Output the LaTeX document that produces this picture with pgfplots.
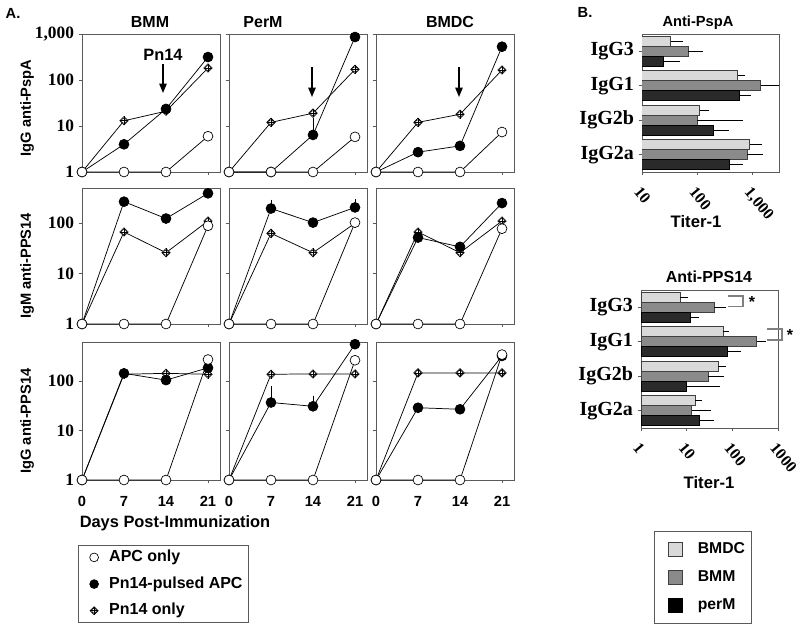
\documentclass[border=0pt]{standalone}
\usepackage{pgfplots}
\pgfplotsset{compat=1.18}
\usepackage{fontspec}
\setmainfont{Liberation Sans}
\newfontfamily\tms{Liberation Serif}
\usetikzlibrary{arrows.meta,patterns}

\pgfdeclareplotmark{dplus}{%
  \pgfpathmoveto{\pgfqpoint{0pt}{\pgfplotmarksize}}%
  \pgfpathlineto{\pgfqpoint{\pgfplotmarksize}{0pt}}%
  \pgfpathlineto{\pgfqpoint{0pt}{-\pgfplotmarksize}}%
  \pgfpathlineto{\pgfqpoint{-\pgfplotmarksize}{0pt}}%
  \pgfpathclose
  \pgfusepathqfillstroke
  \pgfpathmoveto{\pgfqpoint{0pt}{\pgfplotmarksize}}%
  \pgfpathlineto{\pgfqpoint{0pt}{-\pgfplotmarksize}}%
  \pgfpathmoveto{\pgfqpoint{\pgfplotmarksize}{0pt}}%
  \pgfpathlineto{\pgfqpoint{-\pgfplotmarksize}{0pt}}%
  \pgfusepathqstroke
  \pgfpathcircle{\pgfpointorigin}{0.6\pgfplotmarksize}%
  \pgfusepathqstroke
}

\definecolor{axg}{HTML}{5A5A5A}
\definecolor{cBMDC}{HTML}{D9D9D9}
\definecolor{cBMM}{HTML}{8A8A8A}
\definecolor{cPerM}{HTML}{2A2A2A}

\pgfplotsset{
  panelAstyle/.style={/pgfplots/.cd, scale only axis, width=103.5pt, xmin=0, xmax=23,
    xtick={0,7,14,21}, xticklabels={}, yticklabels={},
    tick pos=left, tick align=outside, major tick length=2.5pt,
    yminorticks=false, xminorticks=false,
    axis line style={axg, line width=0.7pt}, tick style={axg, line width=0.6pt},
    clip=false,
    yticklabel style={font=\tms\bfseries\fontsize{13}{13}\selectfont},
    xticklabel style={font=\bfseries\fontsize{11}{11}\selectfont, yshift=-6.5pt}},
  rowIstyle/.style={/pgfplots/.cd, height=103.5pt, ymin=1, ymax=1000, ytick={1,10,100,1000}},
  rowIIstyle/.style={/pgfplots/.cd, height=102pt, ymin=1, ymax=500, ytick={1,10,100}},
  rowIIIstyle/.style={/pgfplots/.cd, height=103.5pt, ymin=1, ymax=620, ytick={1,10,100}},
  apcplot/.style={black, line width=0.55pt, mark=*, mark size=3.7pt, mark options={fill=white, draw=black, line width=0.5pt}},
  pulplot/.style={black, line width=0.55pt, mark=*, mark size=3.7pt, mark options={fill=black}},
  pnplot/.style={black, line width=0.55pt, mark=dplus, mark size=3.2pt, mark options={fill=white, line width=0.45pt}},
  yebar/.style={error bars/.cd, y dir=plus, y explicit,
    error bar style={draw=black, line width=0.5pt}, error mark options={draw=black, mark size=2pt, line width=0.5pt}, /pgfplots/.cd},
  panelBstyle/.style={/pgfplots/.cd, scale only axis, width=102.75pt, height=103.5pt,
    ymin=0.5, ymax=4.5, ytick={1,2,3,4}, yticklabels={IgG2a,IgG2b,IgG1,IgG3},
    tick pos=left, tick align=outside, major tick length=2.5pt,
    xminorticks=false, yminorticks=false,
    axis line style={axg, line width=0.7pt}, tick style={axg, line width=0.6pt},
    yticklabel style={font=\tms\bfseries\fontsize{15}{15}\selectfont},
    xticklabel style={font=\tms\bfseries\fontsize{12}{12}\selectfont, yshift=-3pt, rotate=-50, anchor=north west}},
  xebar/.style={draw=none, mark=none, forget plot, error bars/.cd, x dir=plus, x explicit,
    error bar style={draw=black, line width=0.5pt}, error mark options={draw=black, mark size=2.2pt, line width=0.5pt}, /pgfplots/.cd},
  barBMDC/.style={xbar, bar width=0.29, bar shift=0.29, fill=cBMDC, draw=black!75, line width=0.5pt},
  barBMM/.style={xbar, bar width=0.29, bar shift=0, fill=cBMM, draw=black!75, line width=0.5pt, postaction={pattern=north east lines, pattern color=black!45}},
  barPerM/.style={xbar, bar width=0.29, bar shift=-0.29, fill=cPerM, draw=black, line width=0.5pt},
}

\begin{document}
\begin{tikzpicture}
\path[use as bounding box] (0,0) rectangle (600pt,-474.75pt);

% ---------------- Row 1: IgG anti-PspA ----------------
\begin{axis}[ymode=log, panelAstyle, rowIstyle, at={(61.5pt,-129pt)}, yticklabels={1,10,100,{1,000}}]
\addplot[pnplot]  coordinates {(0,1) (7,13) (14,21) (21,182)};
\addplot[pulplot] coordinates {(0,1) (7,4) (14,23.5) (21,316)};
\addplot[apcplot] coordinates {(0,1) (7,1) (14,1) (21,6)};
\end{axis}
\begin{axis}[ymode=log, panelAstyle, rowIstyle, at={(171.75pt,-129pt)}]
\addplot[pnplot]  coordinates {(0,1) (7,12) (14,19) (21,170)};
\addplot[pulplot, yebar] coordinates {(0,1) +- (0,0) (7,1) +- (0,0) (14,6.4) +- (0,6.5) (21,860) +- (0,0)};
\addplot[apcplot] coordinates {(0,1) (7,1) (14,1) (21,5.8)};
\end{axis}
\begin{axis}[ymode=log, panelAstyle, rowIstyle, at={(282pt,-129pt)}]
\addplot[pnplot]  coordinates {(0,1) (7,12) (14,18) (21,165)};
\addplot[pulplot] coordinates {(0,1) (7,2.7) (14,3.7) (21,530)};
\addplot[apcplot] coordinates {(0,1) (7,1) (14,1) (21,7.4)};
\end{axis}

% ---------------- Row 2: IgM anti-PPS14 ----------------
\begin{axis}[ymode=log, panelAstyle, rowIIstyle, at={(61.5pt,-243pt)}, yticklabels={1,10,100}]
\addplot[pnplot]  coordinates {(0,1) (7,67) (14,26) (21,111)};
\addplot[pulplot] coordinates {(0,1) (7,268) (14,124) (21,392)};
\addplot[apcplot] coordinates {(0,1) (7,1) (14,1) (21,89)};
\end{axis}
\begin{axis}[ymode=log, panelAstyle, rowIIstyle, at={(171.75pt,-243pt)}]
\addplot[pnplot]  coordinates {(0,1) (7,63) (14,26) (21,100)};
\addplot[pulplot, yebar] coordinates {(0,1) +- (0,0) (7,196) +- (0,65) (14,103) +- (0,0) (21,206) +- (0,60)};
\addplot[apcplot] coordinates {(0,1) (7,1) (14,1) (21,103)};
\end{axis}
\begin{axis}[ymode=log, panelAstyle, rowIIstyle, at={(282pt,-243pt)}]
\addplot[pnplot]  coordinates {(0,1) (7,67) (14,26) (21,111)};
\addplot[pulplot] coordinates {(0,1) (7,52) (14,34) (21,251)};
\addplot[apcplot] coordinates {(0,1) (7,1) (14,1) (21,78)};
\end{axis}

% ---------------- Row 3: IgG anti-PPS14 ----------------
\begin{axis}[ymode=log, panelAstyle, rowIIIstyle, at={(61.5pt,-360pt)}, yticklabels={1,10,100}, xticklabels={0,7,14,21},
  legend cell align=left,
  legend style={at={(-0.029,-0.471)}, anchor=north west, draw=axg, line width=0.6pt,
    font=\bfseries\fontsize{12}{14}\selectfont, inner xsep=2.5pt, inner ysep=1pt, row sep=4pt,
    nodes={inner ysep=2pt, text height=9pt, text depth=3pt}}]
\addplot[forget plot, pnplot]  coordinates {(0,1) (7,138) (14,144) (21,138)};
\addplot[forget plot, pulplot] coordinates {(0,1) (7,144) (14,105) (21,186)};
\addplot[forget plot, apcplot] coordinates {(0,1) (7,1) (14,1) (21,274)};
\addlegendimage{legend image code/.code={\path (0pt,0pt) (18pt,0pt); \draw[black, fill=white, line width=0.5pt] (9pt,0pt) circle (3.3pt);}}
\addlegendentry{APC only}
\addlegendimage{legend image code/.code={\path (0pt,0pt) (18pt,0pt); \draw[black, fill=black, line width=0.5pt] (9pt,0pt) circle (3.3pt);}}
\addlegendentry{Pn14-pulsed APC\hspace{13pt}}
\addlegendimage{legend image code/.code={\path (0pt,0pt) (18pt,0pt); \draw[black, fill=white, line width=0.45pt, mark size=3pt] plot[only marks, mark=dplus] coordinates {(9pt,0pt)};}}
\addlegendentry{Pn14 only}
\end{axis}
\begin{axis}[ymode=log, panelAstyle, rowIIIstyle, at={(171.75pt,-360pt)}, xticklabels={0,7,14,21}]
\addplot[pnplot]  coordinates {(0,1) (7,138) (14,140) (21,140)};
\addplot[pulplot, yebar] coordinates {(0,1) +- (0,0) (7,37) +- (0,32) (14,31) +- (0,14) (21,560) +- (0,0)};
\addplot[apcplot] coordinates {(0,1) (7,1) (14,1) (21,265)};
\end{axis}
\begin{axis}[ymode=log, panelAstyle, rowIIIstyle, at={(282pt,-360pt)}, xticklabels={0,7,14,21}]
\addplot[pnplot]  coordinates {(0,1) (7,147) (14,147) (21,147)};
\addplot[pulplot] coordinates {(0,1) (7,29) (14,27) (21,324)};
\addplot[apcplot] coordinates {(0,1) (7,1) (14,1) (21,345)};
\end{axis}

% ---------------- B: Anti-PspA ----------------
\begin{axis}[xmode=log, panelBstyle, at={(481.5pt,-129pt)}, xmin=10, xmax=3000, xtick={10,100,1000}, xticklabels={10,100,{1,000}}]
\addplot[barBMDC] coordinates {(33,4) (540,3) (110,2) (890,1)};
\addplot[barBMM]  coordinates {(69,4) (1400,3) (99,2) (800,1)};
\addplot[barPerM] coordinates {(24.5,4) (565,3) (198,2) (385,1)};
% error bars (upper only), at the centre of each bar
\addplot[xebar] coordinates {(33,4.29) +- (16,0) (540,3.29) +- (110,0) (110,2.29) +- (36,0) (890,1.29) +- (430,0)};
\addplot[xebar] coordinates {(69,4) +- (44,0) (1400,3) +- (1450,0) (99,2) +- (491,0) (800,1) +- (560,0)};
\addplot[xebar] coordinates {(24.5,3.71) +- (18.5,0) (565,2.71) +- (255,0) (198,1.71) +- (132,0) (385,0.71) +- (205,0)};
\end{axis}

% ---------------- B: Anti-PPS14 ----------------
\begin{axis}[xmode=log, panelBstyle, at={(480.75pt,-321pt)}, xmin=1, xmax=1000, xtick={1,10,100,1000}, xticklabels={1,10,100,1000},
  legend cell align=left,
  legend style={at={(0.095,-0.746)}, anchor=north west, draw=axg, line width=0.6pt,
    font=\bfseries\fontsize{11.8}{14}\selectfont, inner xsep=3pt, inner ysep=6pt, row sep=6pt,
    nodes={inner ysep=2pt, text height=8.5pt, text depth=2.5pt}}]
\addplot[forget plot, barBMDC] coordinates {(7.1,4) (63,3) (49,2) (15.4,1)};
\addplot[forget plot, barBMM]  coordinates {(40,4) (340,3) (30,2) (12.9,1)};
\addplot[forget plot, barPerM] coordinates {(11.8,4) (78,3) (9.7,2) (19.2,1)};
\addplot[xebar] coordinates {(7.1,4.29) +- (2.1,0) (63,3.29) +- (9,0) (49,2.29) +- (14,0) (15.4,1.29) +- (3.4,0)};
\addplot[xebar] coordinates {(40,4) +- (23,0) (340,3) +- (120,0) (30,2) +- (28,0) (12.9,1) +- (15.9,0)};
\addplot[xebar] coordinates {(11.8,3.71) +- (4.2,0) (78,2.71) +- (56,0) (9.7,1.71) +- (36,0) (19.2,0.71) +- (15.8,0)};
\addlegendimage{legend image code/.code={\path (-7pt,0pt) (20pt,0pt); \draw[fill=cBMDC, draw=black!75, line width=0.5pt] (0pt,-5.5pt) rectangle (11pt,5.5pt);}}
\addlegendentry{BMDC}
\addlegendimage{legend image code/.code={\path (-7pt,0pt) (20pt,0pt); \draw[fill=cBMM, draw=black!75, line width=0.5pt, postaction={pattern=north east lines, pattern color=black!45}] (0pt,-5.5pt) rectangle (11pt,5.5pt);}}
\addlegendentry{BMM}
\addlegendimage{legend image code/.code={\path (-7pt,0pt) (20pt,0pt); \draw[fill=black, draw=black, line width=0.5pt] (0pt,-5.5pt) rectangle (11pt,5.5pt);}}
\addlegendentry{perM}
\end{axis}

% ---------------- Annotations ----------------
\begin{scope}[x=0.75pt, y=-0.75pt]
\node[font=\bfseries\fontsize{11}{11}\selectfont] at (13,13) {A.};
\node[font=\bfseries\fontsize{11}{11}\selectfont] at (585,12) {B.};
\node[font=\bfseries\fontsize{12}{12}\selectfont] at (150,22) {BMM};
\node[font=\bfseries\fontsize{12}{12}\selectfont] at (263,22) {PerM};
\node[font=\bfseries\fontsize{12}{12}\selectfont] at (450,22) {BMDC};
\node[rotate=90, font=\bfseries\fontsize{11}{11}\selectfont] at (27,108) {IgG anti-PspA};
\node[rotate=90, font=\bfseries\fontsize{11}{11}\selectfont] at (27,266) {IgM anti-PPS14};
\node[rotate=90, font=\bfseries\fontsize{11}{11}\selectfont] at (27,421) {IgG anti-PPS14};
\node[font=\bfseries\fontsize{12.3}{12.3}\selectfont] at (175,523) {Days Post-Immunization};
\node[font=\bfseries\fontsize{12.3}{12.3}\selectfont] at (163,55) {Pn14};
\draw[-{Triangle[length=7pt,width=5.5pt]}, line width=1.1pt] (163,64) -- (163,93);
\draw[-{Triangle[length=7pt,width=5.5pt]}, line width=1.1pt] (312,67) -- (312,97);
\draw[-{Triangle[length=7pt,width=5.5pt]}, line width=1.1pt] (459,67) -- (459,97);
\node[font=\bfseries\fontsize{11}{11}\selectfont] at (698,23) {Anti-PspA};
\node[font=\bfseries\fontsize{12.5}{12.5}\selectfont] at (696,222) {Titer-1};
\node[font=\bfseries\fontsize{12}{12}\selectfont] at (709,277) {Anti-PPS14};
\node[font=\bfseries\fontsize{12.5}{12.5}\selectfont] at (709,483) {Titer-1};
\draw[gray, line width=0.8pt] (728,296) -- (743,296) -- (743,306.7) -- (728,306.7);
\node[font=\bfseries\fontsize{12}{12}\selectfont] at (752,302) {*};
\draw[gray, line width=0.8pt] (767,329) -- (782,329) -- (782,340) -- (767,340);
\node[font=\bfseries\fontsize{12}{12}\selectfont] at (790,335) {*};
\end{scope}
\end{tikzpicture}
\end{document}
